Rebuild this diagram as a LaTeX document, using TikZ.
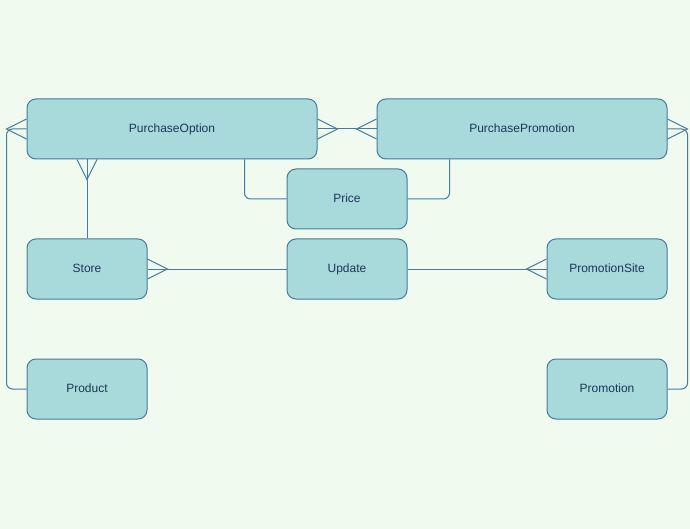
\documentclass[tikz,border=0pt]{standalone}
\usepackage{fontspec}
\setmainfont{Liberation Sans}
\usetikzlibrary{calc}
\definecolor{bg}{HTML}{F1FAEE}
\definecolor{boxfill}{HTML}{A8DADC}
\definecolor{boxline}{HTML}{457B9D}
\definecolor{txt}{HTML}{1D3557}
\begin{document}
\begin{tikzpicture}[x=1pt,y=-1pt,
  entity/.style={draw=boxline, fill=boxfill, rounded corners=9pt, minimum height=60pt, text=txt, font=\fontsize{12}{14}\selectfont, inner sep=0pt, text height=8.6pt, text depth=2.4pt, line width=1pt},
  conn/.style={draw=boxline, line width=1pt, rounded corners=6pt},
  crow/.style={draw=boxline, line width=1pt}]
\fill[bg] (0,0) rectangle (690,529);
\useasboundingbox (0,0) rectangle (690,529);
\node[entity, minimum width=290pt] (po) at (172,129) {PurchaseOption};
\node[entity, minimum width=290pt] (pp) at (522,129) {PurchasePromotion};
\node[entity, minimum width=120pt] (price) at (347,199) {Price};
\node[entity, minimum width=120pt] (st) at (87,269) {Store};
\node[entity, minimum width=120pt] (up) at (347,269) {Update};
\node[entity, minimum width=120pt] (ps) at (607,269) {PromotionSite};
\node[entity, minimum width=120pt] (prod) at (87,389) {Product};
\node[entity, minimum width=120pt] (prom) at (607,389) {Promotion};
% Product -> PurchaseOption
\draw[conn] (prod.west) -- ++(-20,0) |- (po.west);
\draw[crow] ($(po.west)+(0,-10)$) -- ($(po.west)+(-20,0)$) -- ($(po.west)+(0,10)$);
% PurchaseOption <-> PurchasePromotion
\draw[conn] (po.east) -- (pp.west);
\draw[crow] ($(po.east)+(0,-10)$) -- ($(po.east)+(20,0)$) -- ($(po.east)+(0,10)$);
\draw[crow] ($(pp.west)+(0,-10)$) -- ($(pp.west)+(-20,0)$) -- ($(pp.west)+(0,10)$);
% Promotion -> PurchasePromotion
\draw[conn] (prom.east) -- ++(20,0) |- (pp.east);
\draw[crow] ($(pp.east)+(0,-10)$) -- ($(pp.east)+(20,0)$) -- ($(pp.east)+(0,10)$);
% Store -> PurchaseOption
\draw[conn] (st.north) -- (st.north |- po.south);
\draw[crow] ($(st.north |- po.south)+(-10,0)$) -- ($(st.north |- po.south)+(0,20)$) -- ($(st.north |- po.south)+(10,0)$);
% Price -> PurchaseOption / PurchasePromotion
\draw[conn] (price.west) -| ($(po.south west)+(218,0)$);
\draw[conn] (price.east) -| ($(pp.south west)+(73,0)$);
% Store <-> Update
\draw[conn] (st.east) -- (up.west);
\draw[crow] ($(st.east)+(0,-10)$) -- ($(st.east)+(20,0)$) -- ($(st.east)+(0,10)$);
% Update <-> PromotionSite
\draw[conn] (up.east) -- (ps.west);
\draw[crow] ($(ps.west)+(0,-10)$) -- ($(ps.west)+(-20,0)$) -- ($(ps.west)+(0,10)$);
\end{tikzpicture}
\end{document}
